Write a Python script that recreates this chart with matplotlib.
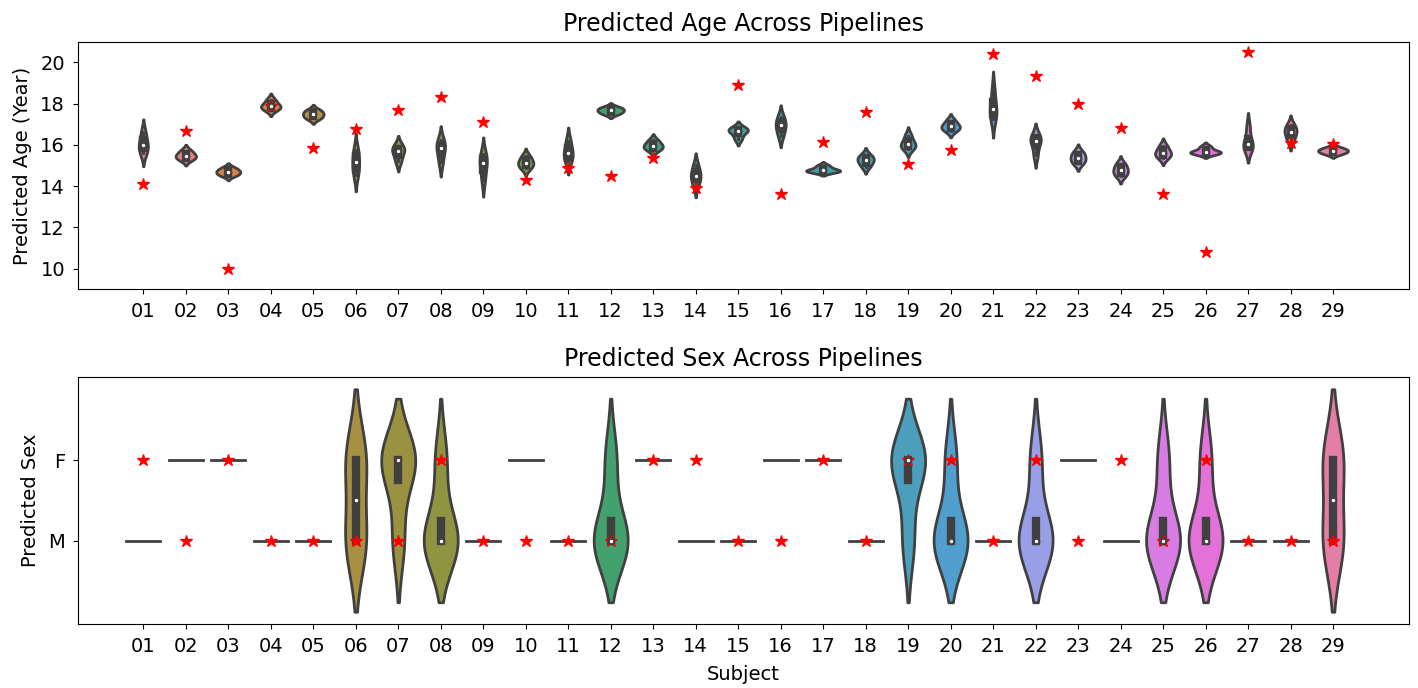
import colorsys

import matplotlib.pyplot as plt
import numpy as np
import seaborn as sns

subjects = ["01", "02", "03", "04", "05", "06", "07", "08", "09", "10",
            "11", "12", "13", "14", "15", "16", "17", "18", "19", "20",
            "21", "22", "23", "24", "25", "26", "27", "28", "29"]

# predicted age (years) from each of the four pipelines
age_pipeline_1 = [15.6, 15.28, 14.52, 17.7, 17.28, 14.54, 15.2, 15.15, 14.3, 14.87,
                  15.2, 17.5, 15.75, 14.05, 16.3, 16.45, 14.7, 14.95, 15.82, 16.68,
                  17.25, 15.5, 15.1, 14.5, 15.38, 15.58, 15.83, 16.2, 15.56]
age_pipeline_2 = [15.9, 15.42, 14.64, 17.84, 17.41, 14.95, 15.6, 15.72, 14.95, 15.06,
                  15.5, 17.62, 15.9, 14.45, 16.64, 16.85, 14.73, 15.2, 15.96, 16.85,
                  17.6, 16.1, 15.28, 14.68, 15.55, 15.63, 15.95, 16.55, 15.68]
age_pipeline_3 = [16.1, 15.52, 14.74, 17.92, 17.55, 15.35, 15.78, 15.94, 15.25, 15.2,
                  15.72, 17.72, 16.0, 14.57, 16.72, 17.03, 14.79, 15.32, 16.1, 16.93,
                  17.86, 16.28, 15.46, 14.86, 15.67, 15.67, 16.1, 16.71, 15.74]
age_pipeline_4 = [16.6, 15.72, 14.88, 18.18, 17.68, 15.76, 15.95, 16.22, 15.55, 15.45,
                  16.2, 17.82, 16.22, 15.0, 16.8, 17.35, 14.98, 15.5, 16.45, 17.18,
                  18.65, 16.42, 15.66, 15.08, 15.95, 15.9, 16.85, 16.95, 15.86]
true_age = [14.1, 16.67, 10.0, 17.9, 15.87, 16.75, 17.68, 18.33, 17.09, 14.32,
            14.88, 14.5, 15.37, 13.93, 18.91, 13.64, 16.15, 17.6, 15.05, 15.73,
            20.4, 19.35, 17.98, 16.8, 13.62, 10.79, 20.5, 16.07, 16.03]

# predicted sex from each of the four pipelines
sex_pipeline_1 = ["M", "F", "F", "M", "M", "F", "F", "M", "M", "F", "M", "M", "F", "M", "M",
                  "F", "F", "M", "F", "M", "M", "M", "F", "M", "M", "F", "M", "M", "F"]
sex_pipeline_2 = ["M", "F", "F", "M", "M", "M", "F", "F", "M", "F", "M", "M", "F", "M", "M",
                  "F", "F", "M", "F", "M", "M", "F", "F", "M", "M", "M", "M", "M", "M"]
sex_pipeline_3 = ["M", "F", "F", "M", "M", "F", "F", "M", "M", "F", "M", "F", "F", "M", "M",
                  "F", "F", "M", "M", "F", "M", "M", "F", "M", "F", "M", "M", "M", "F"]
sex_pipeline_4 = ["M", "F", "F", "M", "M", "M", "M", "M", "M", "F", "M", "M", "F", "M", "M",
                  "F", "F", "M", "F", "M", "M", "M", "F", "M", "M", "M", "M", "M", "M"]
true_sex = ["F", "M", "F", "M", "M", "M", "M", "F", "M", "M", "M", "M", "F", "F", "M",
            "M", "F", "M", "F", "F", "M", "F", "M", "F", "M", "F", "M", "M", "M"]

sex_levels = ["M", "F"]


def draw_violins(ax, groups, colors, gray, lw=2.0, width=0.8, cut=2, gridsize=100):
    curves = []
    for g in groups:
        if np.unique(g).size == 1:
            curves.append(None)
            continue
        bw = g.size ** (-1 / 5) * g.std(ddof=1)
        y = np.linspace(g.min() - cut * bw, g.max() + cut * bw, gridsize)
        dens = np.exp(-0.5 * ((y[:, None] - g[None, :]) / bw) ** 2).sum(1)
        dens /= g.size * bw * np.sqrt(2 * np.pi)
        curves.append((y, dens))
    peak = max(c[1].max() for c in curves if c is not None)

    for i, (g, c) in enumerate(zip(groups, curves)):
        if c is None:
            # every pipeline agrees: flat line
            ax.plot([i - width / 2, i + width / 2], [g[0], g[0]], color=gray, lw=lw)
            continue
        y, dens = c
        half = dens / peak * width / 2
        ax.fill_betweenx(y, i - half, i + half, facecolor=colors[i],
                         edgecolor=gray, lw=lw)
        q25, q50, q75 = np.percentile(g, [25, 50, 75])
        reach = 1.5 * (q75 - q25)
        lo = g[g >= q25 - reach].min()
        hi = g[g <= q75 + reach].max()
        ax.plot([i, i], [lo, hi], color=gray, lw=lw)
        ax.plot([i, i], [q25, q75], color=gray, lw=lw * 3)
        ax.scatter(i, q50, s=(lw * 2) ** 2, color="white", edgecolor=gray,
                   linewidths=1.5, zorder=3)


palette = [sns.desaturate(c, 0.75) for c in sns.husl_palette(len(subjects))]
lum = min(colorsys.rgb_to_hls(*c)[1] for c in palette) * 0.6
gray = (lum, lum, lum)

ages = np.array([age_pipeline_1, age_pipeline_2, age_pipeline_3, age_pipeline_4]).T
sex_pred = np.array([[sex_levels.index(s) for s in p] for p in
                     [sex_pipeline_1, sex_pipeline_2, sex_pipeline_3, sex_pipeline_4]]).T
sex_true = [sex_levels.index(s) for s in true_sex]
pos = np.arange(len(subjects))

fig = plt.figure(figsize=(14.18, 6.88), dpi=100)
ax1 = fig.add_axes([0.0552, 0.5795, 0.9385, 0.3599])
ax2 = fig.add_axes([0.0552, 0.0926, 0.9385, 0.3599])

draw_violins(ax1, list(ages), palette, gray)
ax1.plot(pos, true_age, "r*", markersize=9)
ax1.set_xlim(-1.53, 29.79)
ax1.set_ylim(9, 21)
ax1.set_yticks([10, 12, 14, 16, 18, 20])
ax1.set_xticks(pos)
ax1.set_xticklabels(subjects)
ax1.set_ylabel("Predicted Age (Year)", fontsize=14, labelpad=6)
ax1.set_title("Predicted Age Across Pipelines", fontsize=17, pad=8)

draw_violins(ax2, list(sex_pred.astype(float)), palette, gray)
ax2.plot(pos, sex_true, "r*", markersize=9)
ax2.set_xlim(-1.53, 29.79)
ax2.set_ylim(-1.03, 2.03)
ax2.set_yticks([0, 1])
ax2.set_yticklabels(sex_levels)
ax2.set_xticks(pos)
ax2.set_xticklabels(subjects)
ax2.set_xlabel("Subject", fontsize=14, labelpad=6)
ax2.set_ylabel("Predicted Sex", fontsize=14, labelpad=6)
ax2.set_title("Predicted Sex Across Pipelines", fontsize=17, pad=8)

for ax in (ax1, ax2):
    ax.tick_params(labelsize=14, pad=6)

fig.savefig("out.png", dpi=100)
